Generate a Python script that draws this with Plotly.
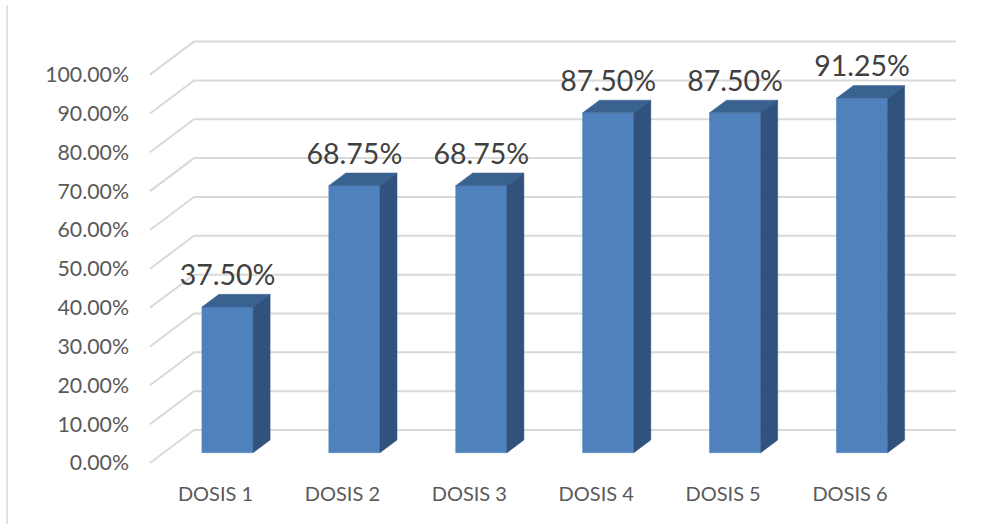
import plotly.graph_objects as go

categories = ["DOSIS 1", "DOSIS 2", "DOSIS 3", "DOSIS 4", "DOSIS 5", "DOSIS 6"]
values = [37.5, 68.75, 68.75, 87.5, 87.5, 91.25]
tick_values = [0, 10, 20, 30, 40, 50, 60, 70, 80, 90, 100]
tick_labels = ["%.2f%%" % v for v in tick_values]

# Projection of the pseudo-3D box, in axis units
PX_X, PX_Y = 126.9, 3.884
WALL_DX, WALL_DY = 44 / PX_X, 33 / PX_Y      # floor front edge -> back wall
WALL_LEN = 762 / PX_X
LEFT = -65.5 / PX_X
BAR_SHIFT_X, BAR_SHIFT_Y = 12 / PX_X, 10.3 / PX_Y   # bar front plane
BAR_HW = 25.6 / PX_X
DEPTH_X, DEPTH_Y = 17 / PX_X, 12.7 / PX_Y

fig = go.Figure()

# Gridlines: diagonal on the side wall, then horizontal on the back wall
gx, gy = [], []
for v in tick_values:
    gx += [LEFT, LEFT + WALL_DX, LEFT + WALL_DX + WALL_LEN, None]
    gy += [v, v + WALL_DY, v + WALL_DY, None]
fig.add_trace(go.Scatter(x=gx, y=gy, mode="lines", hoverinfo="skip",
                         line=dict(color="#d9d9d9", width=2)))

FRONT, TOP, SIDE = "#4f81bd", "#3a6291", "#30527c"
for i, v in enumerate(values):
    x0 = i + BAR_SHIFT_X - BAR_HW
    x1 = i + BAR_SHIFT_X + BAR_HW
    b = BAR_SHIFT_Y
    t = v + BAR_SHIFT_Y
    faces = [
        ([x0, x1, x1, x0, x0], [b, b, t, t, b], FRONT),
        ([x0, x1, x1 + DEPTH_X, x0 + DEPTH_X, x0], [t, t, t + DEPTH_Y, t + DEPTH_Y, t], TOP),
        ([x1, x1 + DEPTH_X, x1 + DEPTH_X, x1, x1], [b, b + DEPTH_Y, t + DEPTH_Y, t, b], SIDE),
    ]
    for fx, fy, col in faces:
        fig.add_trace(go.Scatter(x=fx, y=fy, mode="lines", fill="toself", fillcolor=col,
                                 line=dict(color=col, width=0.5), hoverinfo="skip"))

fig.add_trace(go.Scatter(
    x=[i + BAR_SHIFT_X for i in range(len(values))],
    y=[v + BAR_SHIFT_Y + 29 / PX_Y for v in values],
    mode="text",
    text=["%.2f%%" % v for v in values],
    textposition="middle center",
    textfont=dict(family="Lato, Carlito, sans-serif", size=28.5, color="#404040"),
    hoverinfo="skip",
))

m_l, m_r, m_t, m_b = 130, 36, 30, 44
fig.update_layout(
    width=996, height=524,
    margin=dict(l=m_l, r=m_r, t=m_t, b=m_b),
    paper_bgcolor="white", plot_bgcolor="white",
    showlegend=False,
    font=dict(family="Lato, Carlito, sans-serif", color="#595959"),
    xaxis=dict(range=[(m_l - 215.5) / PX_X, (996 - m_r - 215.5) / PX_X],
               tickmode="array", tickvals=list(range(len(categories))), ticktext=categories,
               showgrid=False, zeroline=False, showline=False, ticks="",
               tickfont=dict(size=20, color="#595959")),
    yaxis=dict(range=[(463 - (524 - m_b)) / PX_Y, (463 - m_t) / PX_Y],
               tickmode="array", tickvals=tick_values, ticktext=tick_labels,
               showgrid=False, zeroline=False, showline=False, ticks="",
               tickfont=dict(size=21.3, color="#595959")),
    shapes=[dict(type="line", xref="paper", yref="paper",
                 x0=(7 - m_l) / (996 - m_l - m_r), x1=(7 - m_l) / (996 - m_l - m_r),
                 y0=-m_b / (524 - m_t - m_b), y1=(524 - m_b - 5) / (524 - m_t - m_b),
                 line=dict(color="#d9d9d9", width=1.5))],
)

fig.write_html("out.html", config={"displayModeBar": False},
               post_script="document.body.style.margin='0';document.documentElement.style.overflow='hidden';")
